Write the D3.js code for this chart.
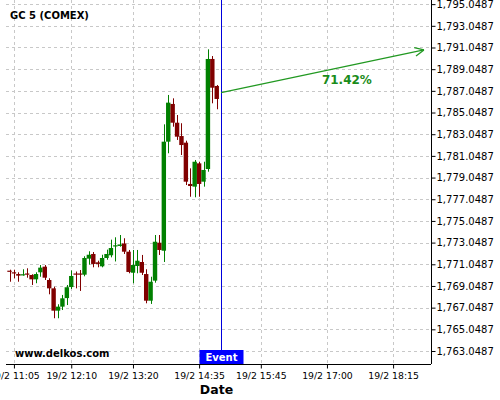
<!DOCTYPE html>
<html><head><meta charset="utf-8">
<script src="https://cdn.jsdelivr.net/npm/d3@7"></script>
<style>html,body{margin:0;padding:0;background:#fff;}svg{display:block;font-family:"DejaVu Sans",sans-serif;}</style>
</head><body>
<svg id="c" width="500" height="400"></svg>
<script>
const title = "GC 5 (COMEX)";
const day = "2024-02-19";
const times = ["11:00","11:05","11:10","11:15","11:20","11:25","11:30","11:35","11:40","11:45","11:50","11:55",
  "12:00","12:05","12:10","12:15","12:20","12:25","12:30","12:35","12:40","12:45","12:50","12:55",
  "13:00","13:05","13:10","13:15","13:20","13:25","13:30","13:35","13:40","13:45","13:50","13:55",
  "14:00","14:05","14:10","14:15","14:20","14:25","14:30","14:35","14:40","14:45","14:50","14:55"];
const open = [1770.46,1770.31,1770.15,1770.04,1770.20,1770.06,1769.66,1770.31,1770.83,1769.60,1768.83,1766.77,
  1767.14,1767.93,1768.95,1770.20,1770.20,1770.09,1771.57,1772.00,1771.23,1770.86,1771.63,1771.88,
  1772.71,1772.74,1772.97,1772.21,1770.27,1770.89,1771.26,1770.15,1767.69,1769.54,1773.04,1772.30,
  1782.36,1785.84,1784.11,1782.88,1782.27,1778.46,1778.21,1780.36,1778.67,1779.84,1789.99,1787.50];
const high = [1770.55,1770.55,1770.31,1770.59,1770.68,1770.13,1770.31,1770.98,1770.98,1769.76,1768.98,1767.36,
  1768.22,1769.14,1770.48,1770.38,1770.52,1771.79,1772.25,1772.18,1771.38,1771.93,1772.40,1773.32,
  1773.54,1773.75,1773.45,1772.37,1772.37,1772.37,1771.91,1770.59,1769.90,1773.75,1773.75,1783.96,
  1786.67,1786.36,1784.82,1784.06,1782.45,1779.90,1780.67,1780.51,1780.51,1790.88,1790.26,1787.59];
const low = [1769.44,1769.76,1769.44,1770.00,1769.81,1769.14,1769.30,1769.90,1769.60,1768.28,1766.07,1766.07,
  1766.83,1767.29,1768.77,1768.83,1768.59,1769.94,1771.01,1770.77,1770.77,1770.77,1771.47,1771.69,
  1771.31,1772.67,1772.00,1770.22,1769.30,1770.22,1770.06,1767.45,1767.39,1769.35,1771.91,1771.26,
  1781.29,1783.74,1782.52,1781.13,1778.36,1777.28,1777.23,1777.28,1778.21,1779.59,1785.90,1785.35];
const close = [1770.37,1770.22,1770.00,1770.13,1770.11,1769.66,1770.15,1770.74,1769.81,1768.83,1766.77,1767.14,
  1767.91,1768.93,1769.97,1770.13,1770.13,1771.63,1771.93,1771.08,1771.08,1771.63,1772.00,1772.55,
  1772.80,1772.88,1772.21,1770.34,1770.98,1771.38,1770.27,1767.69,1769.44,1773.13,1772.37,1782.36,
  1785.96,1784.11,1782.82,1782.05,1778.67,1778.27,1780.51,1778.46,1779.75,1789.99,1787.34,1786.30];
const xDomainTimes = ["10:56","18:58"];
const xTickTimes = ["11:05","12:10","13:20","14:35","15:45","17:00","18:15"];
const yDomain = [1761.85, 1795.43];
const yTicks = [1763.0487,1765.0487,1767.0487,1769.0487,1771.0487,1773.0487,1775.0487,1777.0487,
  1779.0487,1781.0487,1783.0487,1785.0487,1787.0487,1789.0487,1791.0487,1793.0487,1795.0487];
const eventTime = "15:00";
const eventLabel = "Event";
const arrowTimes = ["15:00","18:50"];
const arrowValues = [1786.88, 1790.82];
const pctLabel = "71.42%";
const siteLabel = "www.delkos.com";
const xTitle = "Date";

const parse = d3.timeParse("%Y-%m-%d %H:%M");
const T = s => parse(day + " " + s);
const svg = d3.select("#c");
const L = 6, R = 431, TOP = 0, B = 364;
const x = d3.scaleTime().domain(xDomainTimes.map(T)).range([L, R]);
const y = d3.scaleLinear().domain(yDomain).range([B, TOP]);

// grid
const grid = svg.append("g").attr("stroke", "#c8c8c8").attr("stroke-dasharray", "3,3").attr("stroke-width", 1);
yTicks.forEach(v => grid.append("line").attr("x1", L).attr("x2", R)
  .attr("y1", Math.round(y(v)) + 0.5).attr("y2", Math.round(y(v)) + 0.5));
xTickTimes.forEach(t => grid.append("line").attr("y1", TOP).attr("y2", B)
  .attr("x1", Math.round(x(T(t))) + 0.5).attr("x2", Math.round(x(T(t))) + 0.5));

// candles
const data = times.map((t, i) => ({t: T(t), o: open[i], h: high[i], l: low[i], c: close[i]}));
const bw = x(T("11:05")) - x(T("11:00"));
const up = "#008000", dn = "#800000";
const cg = svg.append("g");
data.forEach(d => {
  const col = d.c >= d.o ? up : dn;
  const cx = x(d.t);
  cg.append("line").attr("x1", Math.round(cx) + 0.5).attr("x2", Math.round(cx) + 0.5)
    .attr("y1", y(d.h)).attr("y2", y(d.l)).attr("stroke", col).attr("stroke-width", 1);
  const top = y(Math.max(d.o, d.c)), bot = y(Math.min(d.o, d.c));
  cg.append("rect").attr("x", cx - bw / 2).attr("width", bw)
    .attr("y", top).attr("height", Math.max(1.2, bot - top)).attr("fill", col);
});

// event line
const ex = Math.round(x(T(eventTime))) + 0.5;
svg.append("line").attr("x1", ex).attr("x2", ex).attr("y1", TOP).attr("y2", 350)
  .attr("stroke", "#0000dd").attr("stroke-width", 1);

// arrow
const ax0 = x(T(arrowTimes[0])), ay0 = y(arrowValues[0]);
const ax1 = x(T(arrowTimes[1])), ay1 = y(arrowValues[1]);
const ag = svg.append("g").attr("stroke", "#229922").attr("stroke-width", 1.3).attr("fill", "none");
ag.append("line").attr("x1", ax0).attr("y1", ay0).attr("x2", ax1).attr("y2", ay1);
const ang = Math.atan2(ay1 - ay0, ax1 - ax0);
[0.45, -0.45].forEach(a => {
  ag.append("line").attr("x1", ax1).attr("y1", ay1)
    .attr("x2", ax1 - 10 * Math.cos(ang + a)).attr("y2", ay1 - 10 * Math.sin(ang + a));
});
const tx = ax0 + 0.62 * (ax1 - ax0);
const ty = ay0 + 0.62 * (ay1 - ay0) + 17.5;
svg.append("text").attr("x", tx).attr("y", ty).attr("text-anchor", "middle")
  .attr("font-weight", "bold").attr("font-size", 12).attr("fill", "#1a8c1a").text(pctLabel);

// y axis
const yMinor = d3.range(Math.ceil((yDomain[0]) * 5), Math.floor(yDomain[1] * 5) + 1)
  .map(k => k / 5 + 0.0487).filter(v => v >= yDomain[0] && v <= yDomain[1]);
const ya = svg.append("g").attr("transform", `translate(${R + 0.5},0)`);
ya.call(d3.axisRight(y).tickValues(yMinor).tickSize(2).tickFormat(""));
ya.call(d3.axisRight(y).tickValues(yTicks).tickSize(4).tickPadding(1).tickFormat(d3.format(",.4f")));
ya.selectAll("path.domain").attr("d", `M0,${TOP}V${B}`);
ya.selectAll("text").attr("font-size", 10).attr("font-family", "DejaVu Sans").attr("fill", "#000");
ya.selectAll("line").attr("stroke", "#000");

// x axis
const major = xTickTimes.map(T);
const minor = [];
for (let i = 0; i < major.length - 1; i++) {
  const a = +major[i], b = +major[i + 1];
  for (let k = 1; k < 4; k++) minor.push(new Date(a + (b - a) * k / 4));
}
{
  const a = +major[major.length - 2], b = +major[major.length - 1], st = (b - a) / 4;
  for (let m = b + st; m <= +x.domain()[1]; m += st) minor.push(new Date(m));
  const a0 = +major[0], b0 = +major[1], st0 = (b0 - a0) / 4;
  for (let m = a0 - st0; m >= +x.domain()[0]; m -= st0) minor.push(new Date(m));
}
const xa = svg.append("g").attr("transform", `translate(0,${B + 0.5})`);
xa.call(d3.axisBottom(x).tickValues(minor).tickSize(2).tickFormat(""));
xa.call(d3.axisBottom(x).tickValues(major).tickSize(4).tickPadding(4).tickFormat(d3.timeFormat("19/2 %H:%M")));
xa.selectAll("path.domain").attr("d", `M${L},0H${R}`);
xa.selectAll("text").attr("font-size", 9.3).attr("font-family", "DejaVu Sans").attr("fill", "#000");
xa.selectAll("line").attr("stroke", "#000");

// labels
svg.append("text").attr("x", 10).attr("y", 19).attr("font-weight", "bold").attr("font-size", 10).text(title);
svg.append("text").attr("x", 15).attr("y", 357).attr("font-weight", "bold").attr("font-size", 10).text(siteLabel);
svg.append("rect").attr("x", ex - 22).attr("y", 350).attr("width", 44).attr("height", 14).attr("fill", "#0000ff");
svg.append("text").attr("x", ex).attr("y", 361).attr("text-anchor", "middle").attr("fill", "#fff")
  .attr("font-weight", "bold").attr("font-size", 10).text(eventLabel);
svg.append("text").attr("x", (L + R) / 2 - 2).attr("y", 394).attr("text-anchor", "middle")
  .attr("font-weight", "bold").attr("font-size", 12.5).text(xTitle);
</script>
</body></html>
